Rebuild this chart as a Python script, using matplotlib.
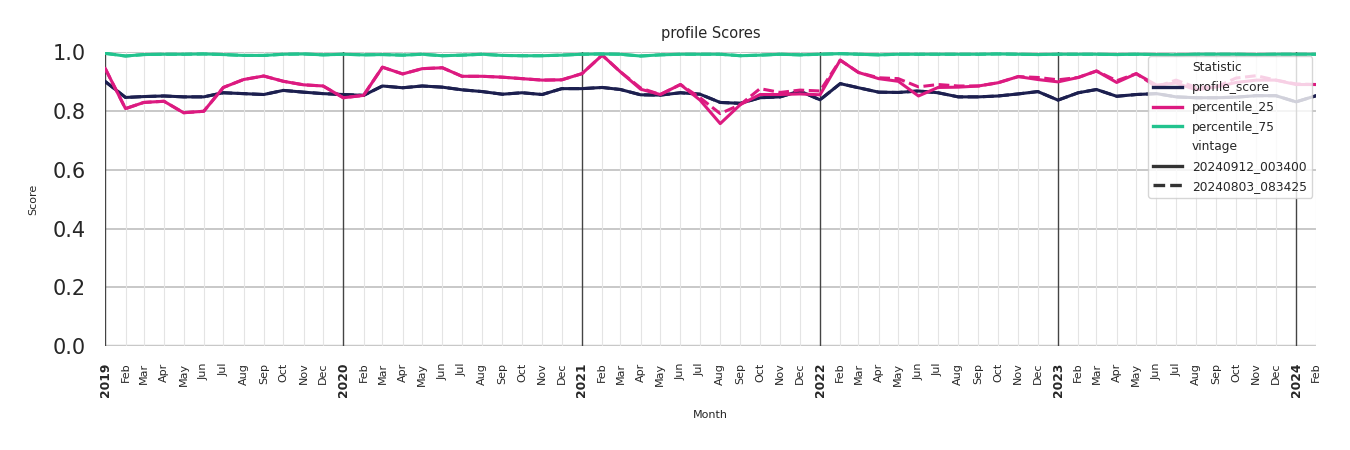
"""
profile Scores: profile_score e percentis 25/75 por mês, duas vintages.
"""

import matplotlib

matplotlib.use("Agg")
import matplotlib.dates as mdates
import matplotlib.pyplot as plt
import numpy as np
import pandas as pd
from matplotlib.lines import Line2D


months = pd.date_range("2019-01-01", "2024-02-01", freq="MS")

profile_score = [
    0.900, 0.846, 0.849, 0.851, 0.848, 0.848, 0.862, 0.859, 0.856, 0.870, 0.864, 0.859,
    0.856, 0.853, 0.885, 0.879, 0.885, 0.881, 0.872, 0.866, 0.857, 0.862, 0.856, 0.876,
    0.876, 0.880, 0.873, 0.855, 0.854, 0.862, 0.857, 0.829, 0.826, 0.845, 0.848, 0.868,
    0.838, 0.893, 0.879, 0.864, 0.863, 0.868, 0.862, 0.848, 0.848, 0.851, 0.858, 0.866,
    0.837, 0.862, 0.873, 0.850, 0.856, 0.859, 0.848, 0.845, 0.845, 0.847, 0.852, 0.852,
    0.831, 0.852,
]

percentile_25 = [
    0.944, 0.808, 0.829, 0.833, 0.794, 0.799, 0.880, 0.907, 0.919, 0.901, 0.889, 0.885,
    0.845, 0.853, 0.949, 0.926, 0.944, 0.947, 0.918, 0.918, 0.915, 0.910, 0.905, 0.906,
    0.927, 0.990, 0.933, 0.874, 0.856, 0.890, 0.837, 0.757, 0.822, 0.856, 0.856, 0.858,
    0.855, 0.973, 0.931, 0.910, 0.901, 0.851, 0.880, 0.881, 0.885, 0.896, 0.917, 0.907,
    0.899, 0.914, 0.936, 0.897, 0.927, 0.888, 0.895, 0.872, 0.882, 0.897, 0.905, 0.905,
    0.890, 0.890,
]

percentile_25_old = [
    0.944, 0.808, 0.829, 0.833, 0.794, 0.799, 0.880, 0.907, 0.919, 0.901, 0.889, 0.885,
    0.845, 0.853, 0.949, 0.926, 0.944, 0.947, 0.918, 0.918, 0.915, 0.910, 0.905, 0.906,
    0.927, 0.990, 0.933, 0.878, 0.856, 0.890, 0.845, 0.791, 0.822, 0.876, 0.863, 0.871,
    0.868, 0.973, 0.931, 0.913, 0.910, 0.882, 0.890, 0.885, 0.885, 0.896, 0.917, 0.914,
    0.906, 0.914, 0.936, 0.903, 0.927, 0.882, 0.905, 0.880, 0.882, 0.912, 0.920, 0.905,
    0.892, 0.890,
]

percentile_75 = [
    0.996, 0.987, 0.992, 0.993, 0.993, 0.994, 0.992, 0.989, 0.989, 0.993, 0.994, 0.991,
    0.993, 0.991, 0.992, 0.990, 0.993, 0.988, 0.990, 0.993, 0.989, 0.988, 0.988, 0.990,
    0.993, 0.994, 0.993, 0.987, 0.991, 0.993, 0.993, 0.993, 0.988, 0.990, 0.993, 0.991,
    0.993, 0.995, 0.993, 0.991, 0.993, 0.993, 0.993, 0.993, 0.993, 0.994, 0.993, 0.992,
    0.993, 0.993, 0.993, 0.992, 0.993, 0.992, 0.991, 0.993, 0.993, 0.993, 0.992, 0.993,
    0.993, 0.993,
]

vintages = ["20240912_003400", "20240803_083425"]
cores = {
    "profile_score": "#1c1f4f",
    "percentile_25": "#dc1a80",
    "percentile_75": "#22c38e",
}

series_new = {
    "profile_score": profile_score,
    "percentile_25": percentile_25,
    "percentile_75": percentile_75,
}
series_old = {
    "profile_score": profile_score,
    "percentile_25": percentile_25_old,
    "percentile_75": percentile_75,
}

fig = plt.figure(figsize=(13.5, 4.5), dpi=100)
ax = fig.add_axes([0.078, 0.231, 0.897, 0.653])

x = mdates.date2num(months.to_pydatetime())

for nome, cor in cores.items():
    ax.plot(x, series_new[nome], color=cor, linewidth=2.2, linestyle="-", zorder=3)
    ax.plot(x, series_old[nome], color=cor, linewidth=2.2, linestyle=(0, (3.5, 1.5)), zorder=3)

# grade
ax.set_ylim(0, 1.0)
ax.set_xlim(x[0], x[-1])
ax.set_yticks(np.arange(0, 1.01, 0.2))
ax.set_yticklabels([f"{v:.1f}" for v in np.arange(0, 1.01, 0.2)], fontsize=15, color="#262626")
for v in np.arange(0.2, 1.01, 0.2):
    ax.axhline(v, color="#c8c8c8", linewidth=1.4, zorder=1)
ax.axhline(0.0, color="#c8c8c8", linewidth=2.5, zorder=1)

for xi, m in zip(x, months):
    if m.month == 1:
        ax.axvline(xi, color="#444444", linewidth=1.0, zorder=2)
    else:
        ax.axvline(xi, color="#e4e4e4", linewidth=0.8, zorder=1)

ax.set_xticks(x)
labels = [str(m.year) if m.month == 1 else m.strftime("%b") for m in months]
ax.set_xticklabels(labels, rotation=90, fontsize=8, color="#262626")
for lbl, m in zip(ax.get_xticklabels(), months):
    if m.month == 1:
        lbl.set_fontweight("bold")
        lbl.set_fontsize(8.8)
ax.tick_params(axis="x", length=0, pad=12)
ax.tick_params(axis="y", length=0, pad=14)

for s in ax.spines.values():
    s.set_visible(False)

ax.set_title("profile Scores", fontsize=10.5, color="#262626", pad=10)
ax.set_xlabel("Month", fontsize=8, color="#262626", labelpad=9)
ax.set_ylabel("Score", fontsize=8, color="#262626", labelpad=10)

vazio = Line2D([], [], color="none")
handles = [
    vazio,
    Line2D([], [], color=cores["profile_score"], linewidth=2.4),
    Line2D([], [], color=cores["percentile_25"], linewidth=2.4),
    Line2D([], [], color=cores["percentile_75"], linewidth=2.4),
    vazio,
    Line2D([], [], color="#333333", linewidth=2.4),
    Line2D([], [], color="#333333", linewidth=2.4, linestyle=(0, (3.5, 1.5))),
]
rotulos = ["Statistic", "profile_score", "percentile_25", "percentile_75",
           "vintage", vintages[0], vintages[1]]
leg = ax.legend(handles, rotulos, loc="upper right", fontsize=8.8, handlelength=2.4,
                labelspacing=0.55, framealpha=0.8, edgecolor="#cccccc", fancybox=True,
                borderaxespad=0.35)
for t in leg.get_texts():
    t.set_color("#262626")

fig.savefig("out.png", dpi=100)
